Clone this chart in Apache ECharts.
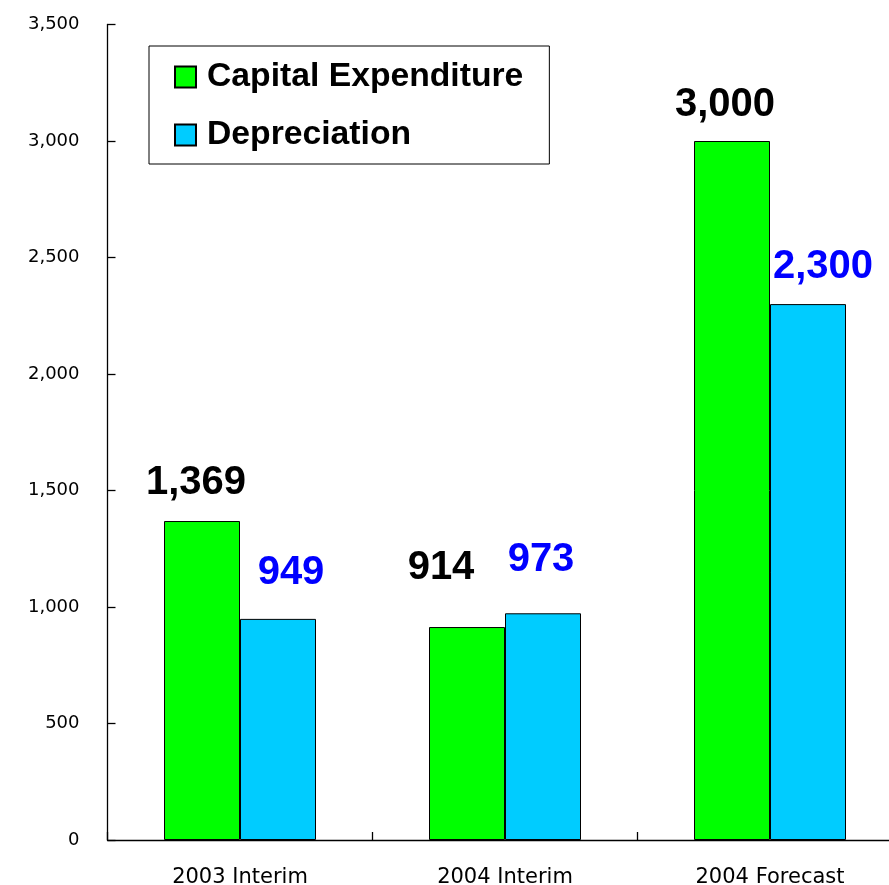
<!DOCTYPE html>
<html><head><meta charset="utf-8">
<script src="https://cdn.jsdelivr.net/npm/echarts@6/dist/echarts.min.js"></script>
<style>html,body{margin:0;padding:0;background:#fff}#c{width:889px;height:885px}</style>
</head><body><div id="c"></div>
<script>
const categories = ['2003 Interim', '2004 Interim', '2004 Forecast'];
const capexValues = [1369, 914, 3000];
const deprValues = [949, 973, 2300];
const yTicks = { min: 0, max: 3500, interval: 500 };
const seriesNames = ['Capital Expenditure', 'Depreciation'];

// label placement nudges (styling only): [dx, distance]
const capexLabelNudge = [[-6, 18], [-26, 39], [-7, 16]];
const deprLabelNudge = [[13, 26], [-2, 33], [15, 17]];

function items(vals, nudge) {
  return vals.map((v, i) => ({ value: v, label: { offset: [nudge[i][0], 0], distance: nudge[i][1] } }));
}
const fmt = p => p.value.toLocaleString('en-US');

const chart = echarts.init(document.getElementById('c'), null, { renderer: 'canvas' });
chart.setOption({
  animation: false,
  backgroundColor: '#fff',
  grid: { left: 107.5, width: 795, top: 24.5, height: 815.5, outerBoundsMode: 'none', containLabel: false },
  legend: {
    orient: 'vertical', left: 149, top: 46,
    padding: [14, 26, 12, 25],
    borderColor: '#000', borderWidth: 1,
    itemWidth: 21, itemHeight: 21, itemGap: 24,
    icon: 'rect',
    textStyle: { fontFamily: 'Liberation Sans', fontWeight: 'bold', fontSize: 33.7, color: '#000', padding: [0, 0, 0, 6] },
    data: seriesNames
  },
  xAxis: {
    type: 'category', data: categories,
    axisLine: { lineStyle: { color: '#000', width: 1.3 } },
    axisTick: { show: true, inside: true, length: 8, interval: 0, lineStyle: { color: '#000', width: 1.3 } },
    axisLabel: { fontFamily: 'DejaVu Sans', fontSize: 21, color: '#000', margin: 27 }
  },
  yAxis: {
    type: 'value', min: yTicks.min, max: yTicks.max, interval: yTicks.interval,
    splitLine: { show: false },
    axisLine: { show: true, lineStyle: { color: '#000', width: 1.3 } },
    axisTick: { show: true, inside: true, length: 8, lineStyle: { color: '#000', width: 1.3 } },
    axisLabel: { fontFamily: 'DejaVu Sans', fontSize: 18, color: '#000', margin: 28,
      formatter: v => v.toLocaleString('en-US') }
  },
  series: [
    {
      name: seriesNames[0], type: 'bar', barWidth: 76, barGap: '0%',
      itemStyle: { color: '#00ff00', borderColor: '#000', borderWidth: 1 },
      label: { show: true, position: 'top', formatter: fmt, fontFamily: 'Liberation Sans', fontWeight: 'bold', fontSize: 40, color: '#000' },
      data: items(capexValues, capexLabelNudge)
    },
    {
      name: seriesNames[1], type: 'bar', barWidth: 76, barGap: '0%',
      itemStyle: { color: '#00ccff', borderColor: '#000', borderWidth: 1 },
      label: { show: true, position: 'top', formatter: fmt, fontFamily: 'Liberation Sans', fontWeight: 'bold', fontSize: 40, color: '#0000ff' },
      data: items(deprValues, deprLabelNudge)
    }
  ]
});
</script></body></html>
